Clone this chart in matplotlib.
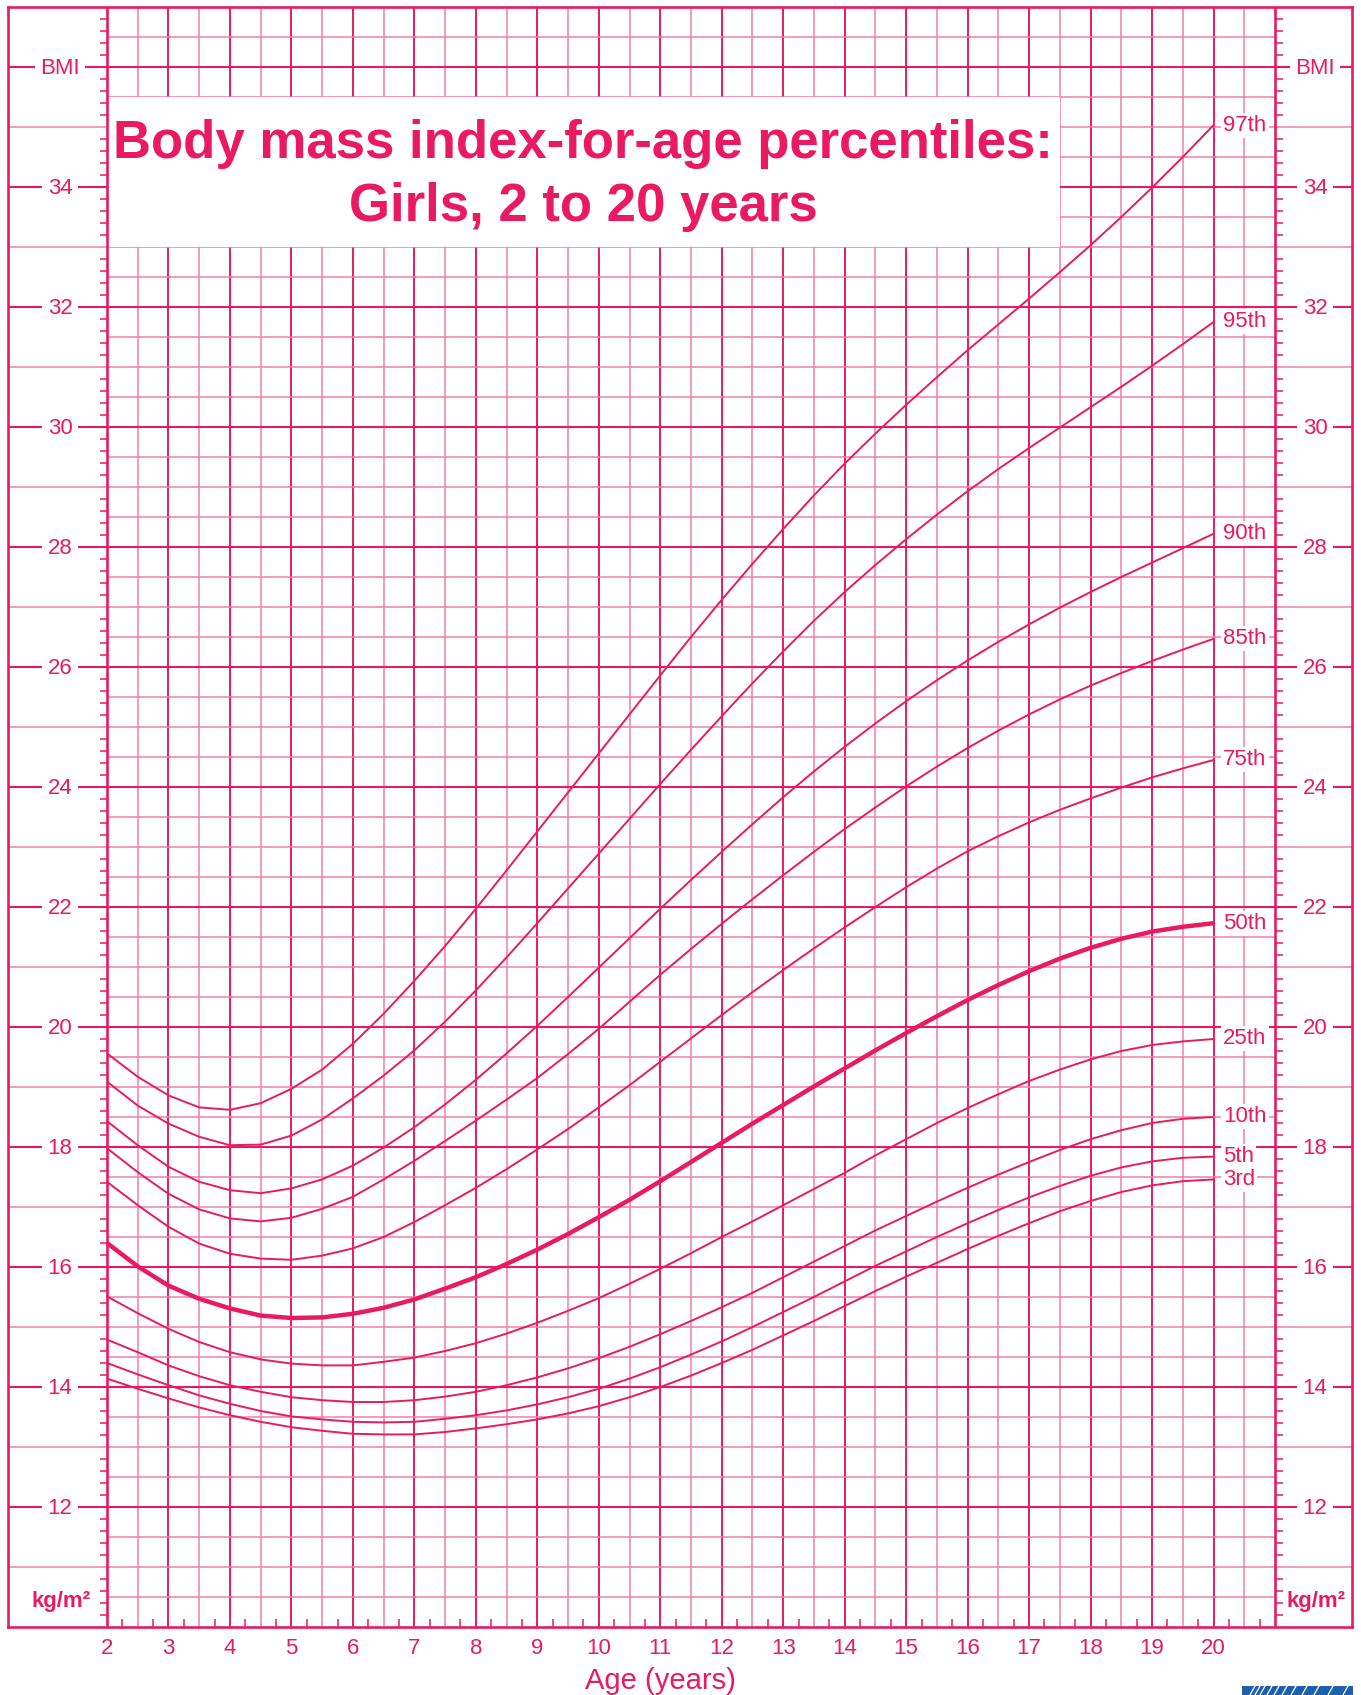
import matplotlib

matplotlib.use("Agg")
import matplotlib.pyplot as plt
import numpy as np
from matplotlib.patches import Rectangle
from matplotlib.lines import Line2D

PINK = "#E91A62"
PINK_LIGHT = "#F27FA7"
CDC_BLUE = "#1F5FAD"
FONT = "Liberation Sans"

# Age in years, half-year steps
ages = [2.0, 2.5, 3.0, 3.5, 4.0, 4.5, 5.0, 5.5, 6.0, 6.5, 7.0, 7.5, 8.0, 8.5,
        9.0, 9.5, 10.0, 10.5, 11.0, 11.5, 12.0, 12.5, 13.0, 13.5, 14.0, 14.5,
        15.0, 15.5, 16.0, 16.5, 17.0, 17.5, 18.0, 18.5, 19.0, 19.5, 20.0]

# BMI percentile curves (kg/m2)
p97 = [19.56, 19.17, 18.86, 18.66, 18.62, 18.73, 18.97, 19.29, 19.72, 20.22,
       20.77, 21.35, 21.97, 22.61, 23.26, 23.91, 24.56, 25.21, 25.86, 26.50,
       27.12, 27.72, 28.30, 28.86, 29.39, 29.89, 30.37, 30.83, 31.28, 31.71,
       32.14, 32.58, 33.03, 33.50, 33.99, 34.50, 35.03]
p95 = [19.09, 18.69, 18.39, 18.17, 18.03, 18.04, 18.19, 18.46, 18.81, 19.19,
       19.61, 20.09, 20.61, 21.16, 21.73, 22.31, 22.89, 23.47, 24.05, 24.62,
       25.18, 25.73, 26.26, 26.77, 27.25, 27.70, 28.13, 28.54, 28.93, 29.30,
       29.65, 29.99, 30.33, 30.67, 31.02, 31.38, 31.75]
p90 = [18.43, 18.03, 17.67, 17.42, 17.28, 17.23, 17.31, 17.46, 17.69, 17.99,
       18.33, 18.71, 19.12, 19.56, 20.02, 20.50, 20.99, 21.48, 21.97, 22.45,
       22.92, 23.38, 23.83, 24.26, 24.67, 25.06, 25.43, 25.78, 26.11, 26.42,
       26.71, 26.99, 27.25, 27.50, 27.74, 27.98, 28.22]
p85 = [17.98, 17.58, 17.22, 16.96, 16.81, 16.76, 16.82, 16.97, 17.17, 17.46,
       17.77, 18.10, 18.44, 18.79, 19.15, 19.55, 19.97, 20.42, 20.87, 21.30,
       21.72, 22.13, 22.53, 22.92, 23.30, 23.66, 24.01, 24.34, 24.65, 24.94,
       25.21, 25.46, 25.69, 25.90, 26.10, 26.29, 26.47]
p75 = [17.42, 17.03, 16.67, 16.39, 16.22, 16.14, 16.12, 16.19, 16.31, 16.50,
       16.75, 17.03, 17.32, 17.63, 17.96, 18.30, 18.66, 19.03, 19.42, 19.81,
       20.20, 20.58, 20.95, 21.31, 21.66, 22.00, 22.33, 22.64, 22.93, 23.18,
       23.41, 23.62, 23.81, 23.99, 24.16, 24.31, 24.45]
p50 = [16.40, 16.01, 15.69, 15.47, 15.31, 15.19, 15.15, 15.16, 15.22, 15.32,
       15.46, 15.64, 15.83, 16.05, 16.29, 16.55, 16.83, 17.12, 17.43, 17.75,
       18.07, 18.39, 18.70, 19.01, 19.31, 19.61, 19.90, 20.18, 20.45, 20.70,
       20.93, 21.14, 21.32, 21.47, 21.59, 21.67, 21.73]
p25 = [15.51, 15.23, 14.97, 14.75, 14.58, 14.46, 14.39, 14.36, 14.36, 14.42,
       14.49, 14.60, 14.73, 14.89, 15.07, 15.27, 15.48, 15.72, 15.97, 16.23,
       16.50, 16.76, 17.03, 17.30, 17.57, 17.86, 18.13, 18.40, 18.65, 18.88,
       19.10, 19.29, 19.46, 19.60, 19.70, 19.76, 19.80]
p10 = [14.79, 14.58, 14.36, 14.18, 14.03, 13.92, 13.83, 13.78, 13.75, 13.75,
       13.78, 13.84, 13.92, 14.03, 14.16, 14.31, 14.48, 14.67, 14.88, 15.10,
       15.33, 15.57, 15.83, 16.09, 16.35, 16.61, 16.85, 17.09, 17.32, 17.54,
       17.75, 17.95, 18.13, 18.28, 18.40, 18.47, 18.50]
p5 = [14.40, 14.21, 14.03, 13.86, 13.72, 13.60, 13.51, 13.46, 13.42, 13.41,
      13.42, 13.47, 13.53, 13.61, 13.71, 13.83, 13.97, 14.14, 14.33, 14.54,
      14.76, 15.00, 15.25, 15.50, 15.76, 16.02, 16.26, 16.50, 16.73, 16.95,
      17.16, 17.35, 17.52, 17.66, 17.76, 17.82, 17.84]
p3 = [14.14, 13.97, 13.81, 13.66, 13.53, 13.42, 13.33, 13.27, 13.22, 13.21,
      13.21, 13.25, 13.31, 13.38, 13.46, 13.56, 13.68, 13.83, 14.00, 14.19,
      14.40, 14.62, 14.86, 15.10, 15.35, 15.60, 15.84, 16.07, 16.30, 16.52,
      16.73, 16.93, 17.10, 17.25, 17.36, 17.43, 17.46]

curve_labels = ["97th", "95th", "90th", "85th", "75th", "50th", "25th",
                "10th", "5th", "3rd"]
curves = [p97, p95, p90, p85, p75, p50, p25, p10, p5, p3]

age_ticks = list(range(2, 21))
bmi_labels = list(range(12, 35, 2))

# chart frame: age 2..21, BMI 10..37, with margins for the BMI scales
AGE_MIN, AGE_MAX = 2, 21
BMI_MIN, BMI_MAX = 10, 37
PX_YEAR = 1168 / 19
X0 = AGE_MIN - 99 / PX_YEAR
X1 = AGE_MAX + 77 / PX_YEAR
XL = X0 + 52 / PX_YEAR   # centre of left scale labels
XR = AGE_MAX + 40 / PX_YEAR  # centre of right scale labels

W, H = 1361, 1695
fig = plt.figure(figsize=(W / 100, H / 100), dpi=100, facecolor="white")
ax = fig.add_axes([8 / W, (H - 1627) / H, 1344 / W, 1620 / H])
ax.set_xlim(X0, X1)
ax.set_ylim(BMI_MIN, BMI_MAX)
for s in ax.spines.values():
    s.set_color(PINK)
    s.set_linewidth(1.9)

# grid: half-year verticals, half-unit horizontals
for a in np.arange(2.5, 21, 0.5):
    major = float(a).is_integer()
    ax.vlines(a, BMI_MIN, BMI_MAX, color=PINK if major else PINK_LIGHT,
              lw=1.4 if major else 1.1, zorder=1)
for b in np.arange(10.5, 37, 0.5):
    even = float(b).is_integer() and int(b) % 2 == 0
    ax.hlines(b, AGE_MIN, AGE_MAX, color=PINK if even else PINK_LIGHT,
              lw=1.5 if even else 1.1, zorder=1)
    if float(b).is_integer():
        for xa, xb in ((X0, AGE_MIN), (AGE_MAX, X1)):
            ax.hlines(b, xa, xb, color=PINK if even else PINK_LIGHT,
                      lw=1.5 if even else 1.1, zorder=1)
ax.vlines([AGE_MIN, AGE_MAX], BMI_MIN, BMI_MAX, color=PINK, lw=1.9,
          zorder=2.5)

# minor ticks on both BMI scales and along the age axis
for b in np.arange(10.2, 37, 0.2):
    if abs(b - round(b)) < 0.01:
        continue
    ax.hlines(b, AGE_MIN - 7 / PX_YEAR, AGE_MIN, color=PINK, lw=1.1, zorder=2)
    ax.hlines(b, AGE_MAX, AGE_MAX + 8 / PX_YEAR, color=PINK, lw=1.1, zorder=2)
for a in np.arange(2.25, 21, 0.5):
    ax.vlines(a, BMI_MIN, BMI_MIN + 8 / 60, color=PINK, lw=1.1, zorder=2)

# BMI scale labels in the side margins
lab_box = dict(facecolor="white", edgecolor="none", pad=4)
for b in bmi_labels:
    for xc in (XL, XR):
        ax.text(xc, b - 0.03, str(b), ha="center", va="center", fontsize=16,
                color=PINK, family=FONT, bbox=lab_box, zorder=3)
for xc in (XL, XR):
    ax.text(xc, 35.97, "BMI", ha="center", va="center", fontsize=16,
            color=PINK, family=FONT, bbox=lab_box, zorder=3)
    ax.text(xc + 0.02, 10.42, "kg/m²", ha="center", va="center", fontsize=16,
            color=PINK, family=FONT, fontweight="bold", zorder=3)

# title panel
ax.add_patch(Rectangle((AGE_MIN, 33), 15.5, 2.5, facecolor="white",
                       edgecolor="none", zorder=2))
ax.text(9.75, 34.71, "Body mass index-for-age percentiles:", ha="center",
        va="center", fontsize=38, fontweight="bold", color=PINK, family=FONT,
        zorder=3)
ax.text(9.75, 33.66, "Girls, 2 to 20 years", ha="center", va="center",
        fontsize=38, fontweight="bold", color=PINK, family=FONT, zorder=3)

# percentile curves
for lab, vals in zip(curve_labels, curves):
    ax.plot(ages, vals, color=PINK, lw=3.2 if lab == "50th" else 1.4,
            solid_capstyle="butt", zorder=4)
    ax.text(20.16, vals[-1], lab, ha="left", va="center", fontsize=16,
            color=PINK, family=FONT, zorder=5,
            bbox=dict(facecolor="white", edgecolor="none", pad=1.5))

# age axis
ax.set_xticks(age_ticks)
ax.set_xticklabels([str(a) for a in age_ticks], fontsize=16, color=PINK,
                   family=FONT)
ax.tick_params(axis="x", length=0, pad=8)
ax.set_yticks([])
ax.text(11, BMI_MIN - 0.9, "Age (years)", ha="center", va="center",
        fontsize=21, color=PINK, family=FONT)

# corner logo strip
fig.patches.append(Rectangle((1242 / W, 0), 111 / W, 9 / H, facecolor=CDC_BLUE,
                             edgecolor="none", transform=fig.transFigure))
for xs in [1250, 1255, 1260, 1267, 1274, 1282, 1291, 1302, 1314, 1328, 1343]:
    fig.lines.append(Line2D([xs / W, (xs + 5) / W], [0, 9 / H], color="white",
                            lw=0.9, transform=fig.transFigure))

fig.savefig("out.png", dpi=100, facecolor="white")
